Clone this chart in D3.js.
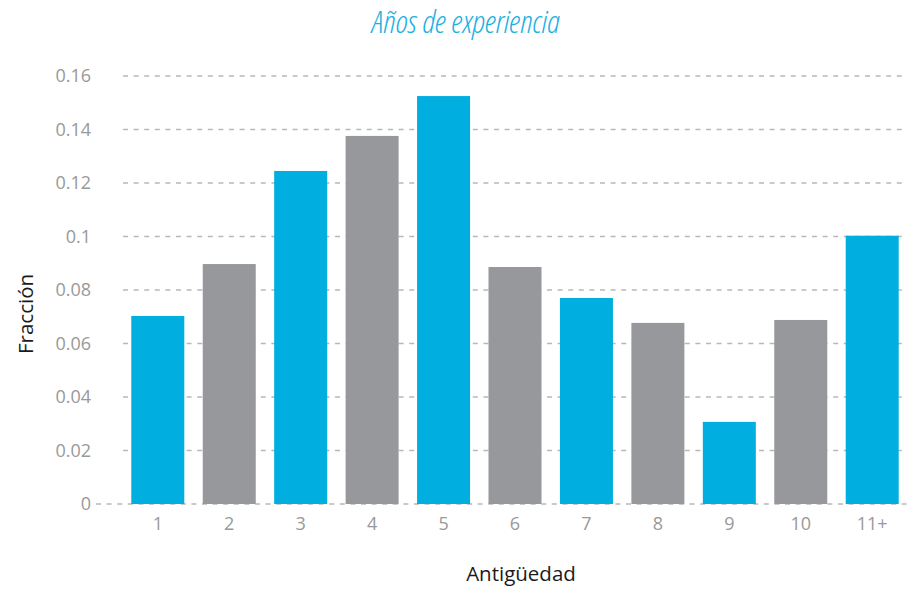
<!DOCTYPE html>
<html>
<head>
<meta charset="utf-8">
<script src="https://cdn.jsdelivr.net/npm/d3@7"></script>
<style>
html,body{margin:0;padding:0;background:#fff;}
svg{display:block;font-family:"Open Sans",sans-serif;}
</style>
</head>
<body>
<svg id="chart" width="907" height="589"></svg>
<script>
const categories = ["1","2","3","4","5","6","7","8","9","10","11+"];
const values = [0.0703, 0.0897, 0.1245, 0.1376, 0.1525, 0.0886, 0.0770, 0.0677, 0.0307, 0.0688, 0.1003];
const yTicks = [0, 0.02, 0.04, 0.06, 0.08, 0.1, 0.12, 0.14, 0.16];
const title = "Años de experiencia";
const xTitle = "Antigüedad";
const yTitle = "Fracción";

const svg = d3.select("#chart");
const blue = "#00aedf", gray = "#97989b";

const x = d3.scaleBand().domain(categories).range([123, 907]).paddingInner(0.258).paddingOuter(0.116);
const y = d3.scaleLinear().domain([0, 0.16]).range([504, 76]);

// gridlines
const grid = svg.append("g");
grid.selectAll("line").data(yTicks).join("line")
  .attr("x1", d => d === 0 ? 96 : 123).attr("x2", 907)
  .attr("y1", d => y(d)).attr("y2", d => y(d))
  .attr("stroke", "#b8b8b8").attr("stroke-width", 1.3)
  .attr("stroke-dasharray", "5,5.6");

// bars
svg.append("g").selectAll("rect").data(values).join("rect")
  .attr("x", (d, i) => x(categories[i]))
  .attr("width", x.bandwidth())
  .attr("y", d => y(d))
  .attr("height", d => y(0) - y(d))
  .attr("fill", (d, i) => i % 2 === 0 ? blue : gray);

// y axis labels
const yAxis = svg.append("g").attr("transform", "translate(91,0)")
  .call(d3.axisLeft(y).tickValues(yTicks).tickSize(0).tickPadding(0).tickFormat(d => String(+d.toFixed(2))));
yAxis.select(".domain").remove();
yAxis.selectAll("text").attr("fill", "#999").style("font-size", "18px").style("font-family", "'Open Sans',sans-serif");

// x axis labels
const xAxis = svg.append("g").attr("transform", "translate(0,504)")
  .call(d3.axisBottom(x).tickSize(0).tickPadding(13));
xAxis.select(".domain").remove();
xAxis.selectAll("text").attr("fill", "#999").style("font-size", "18px").style("font-family", "'Open Sans',sans-serif");

// titles
svg.append("text").attr("x", 466).attr("y", 33).attr("text-anchor", "middle")
  .attr("fill", "#1ab0e2").style("font-size", "32px").style("font-style", "italic")
  .style("font-weight", 300).style("font-stretch", "condensed")
  .text(title);

svg.append("text").attr("x", 521).attr("y", 581).attr("text-anchor", "middle")
  .attr("fill", "#1a1a1a").style("font-size", "20.5px").text(xTitle);

svg.append("text").attr("transform", "translate(33,314) rotate(-90)").attr("text-anchor", "middle")
  .attr("fill", "#1a1a1a").style("font-size", "20.5px").text(yTitle);
</script>
</body>
</html>
